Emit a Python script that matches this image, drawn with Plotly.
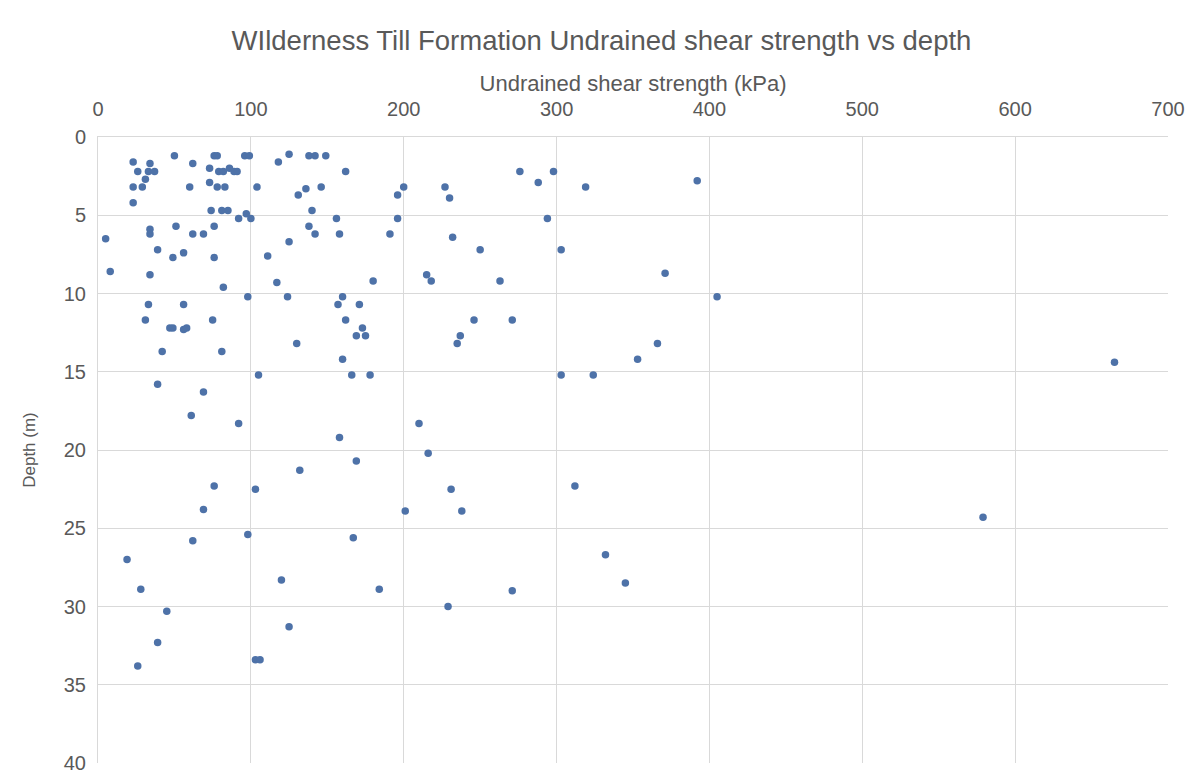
import plotly.graph_objects as go

# Undrained shear strength (kPa) and depth (m)
shear_strength_kpa = [
    23, 34, 50, 62, 76, 78, 96, 99, 118, 125,
    26, 33, 37, 31, 23, 29, 23, 73, 79, 82, 86, 89, 91, 60, 73, 78, 83, 104, 74, 81, 85, 92, 97, 100,
    5, 34, 34, 51, 62, 69, 76, 39, 49, 56, 76, 111, 8, 34, 82, 117, 98, 124, 125,
    138, 142, 149, 162, 131, 136, 146, 140, 156, 138, 142, 158, 196, 200, 227, 230, 196, 191, 232,
    180, 215, 218, 160, 250,
    276, 288, 298, 319, 392, 294, 303, 263, 371, 405,
    33, 56, 31, 47, 49, 56, 58, 75, 42, 81, 105, 39, 69, 61, 92,
    157, 171, 162, 173, 169, 175, 130, 160, 166, 178, 246, 237, 235, 210, 158, 216, 169,
    271, 303, 324, 353, 366,
    665, 579,
    76, 103, 69, 98, 62, 19, 28, 120, 45, 125, 39, 26, 103, 106,
    132, 231, 201, 238, 167, 184, 229,
    312, 332, 345, 271,
]
depth_m = [
    1.6, 1.7, 1.2, 1.7, 1.2, 1.2, 1.2, 1.2, 1.6, 1.1,
    2.2, 2.2, 2.2, 2.7, 3.2, 3.2, 4.2, 2.0, 2.2, 2.2, 2.0, 2.2, 2.2, 3.2, 2.9, 3.2, 3.2, 3.2, 4.7, 4.7, 4.7, 5.2, 4.9, 5.2,
    6.5, 5.9, 6.2, 5.7, 6.2, 6.2, 5.7, 7.2, 7.7, 7.4, 7.7, 7.6, 8.6, 8.8, 9.6, 9.3, 10.2, 10.2, 6.7,
    1.2, 1.2, 1.2, 2.2, 3.7, 3.3, 3.2, 4.7, 5.2, 5.7, 6.2, 6.2, 3.7, 3.2, 3.2, 3.9, 5.2, 6.2, 6.4,
    9.2, 8.8, 9.2, 10.2, 7.2,
    2.2, 2.9, 2.2, 3.2, 2.8, 5.2, 7.2, 9.2, 8.7, 10.2,
    10.7, 10.7, 11.7, 12.2, 12.2, 12.3, 12.2, 11.7, 13.7, 13.7, 15.2, 15.8, 16.3, 17.8, 18.3,
    10.7, 10.7, 11.7, 12.2, 12.7, 12.7, 13.2, 14.2, 15.2, 15.2, 11.7, 12.7, 13.2, 18.3, 19.2, 20.2, 20.7,
    11.7, 15.2, 15.2, 14.2, 13.2,
    14.4, 24.3,
    22.3, 22.5, 23.8, 25.4, 25.8, 27.0, 28.9, 28.3, 30.3, 31.3, 32.3, 33.8, 33.4, 33.4,
    21.3, 22.5, 23.9, 23.9, 25.6, 28.9, 30.0,
    22.3, 26.7, 28.5, 29.0,
]

x_ticks = [0, 100, 200, 300, 400, 500, 600, 700]
y_ticks = [0, 5, 10, 15, 20, 25, 30, 35, 40]

FONT = "Liberation Sans, Arial, sans-serif"
GRID = "#d9d9d9"
TEXT = "#595959"

fig = go.Figure(
    go.Scatter(
        x=shear_strength_kpa,
        y=depth_m,
        mode="markers",
        marker=dict(color="#4e72a8", size=7.5, line=dict(width=0)),
        showlegend=False,
    )
)

fig.update_layout(
    width=1203,
    height=776,
    paper_bgcolor="white",
    plot_bgcolor="white",
    margin=dict(l=98, r=35, t=137, b=13, autoexpand=False),
    font=dict(family=FONT, color=TEXT),
    title=dict(
        text="WIlderness Till Formation Undrained shear strength vs depth",
        x=0.5,
        xref="container",
        xanchor="center",
        y=1 - 40 / 776,
        yref="container",
        yanchor="middle",
        font=dict(family=FONT, size=27.5, color=TEXT),
    ),
    xaxis=dict(
        side="top",
        range=[0, 700],
        tickvals=x_ticks,
        ticktext=[str(v) for v in x_ticks],
        showgrid=True,
        gridcolor=GRID,
        gridwidth=1,
        zeroline=False,
        showline=True,
        linecolor=GRID,
        ticks="",
        automargin=False,
        ticklabelstandoff=12,
        tickfont=dict(family=FONT, size=20, color=TEXT),
        title=dict(
            text="Undrained shear strength (kPa)",
            font=dict(family=FONT, size=22, color=TEXT),
            standoff=0,
        ),
    ),
    yaxis=dict(
        range=[40, 0],
        tickvals=y_ticks,
        ticktext=[str(v) for v in y_ticks],
        showgrid=True,
        gridcolor=GRID,
        gridwidth=1,
        zeroline=False,
        showline=True,
        linecolor=GRID,
        ticks="",
        automargin=False,
        ticklabelstandoff=7,
        tickfont=dict(family=FONT, size=20, color=TEXT),
        title=dict(
            text="Depth (m)",
            font=dict(family=FONT, size=17, color=TEXT),
            standoff=23,
        ),
    ),
)

fig.write_html(
    "out.html",
    config={"displayModeBar": False},
    post_script="document.body.style.margin='0';document.body.style.overflow='hidden';",
)
